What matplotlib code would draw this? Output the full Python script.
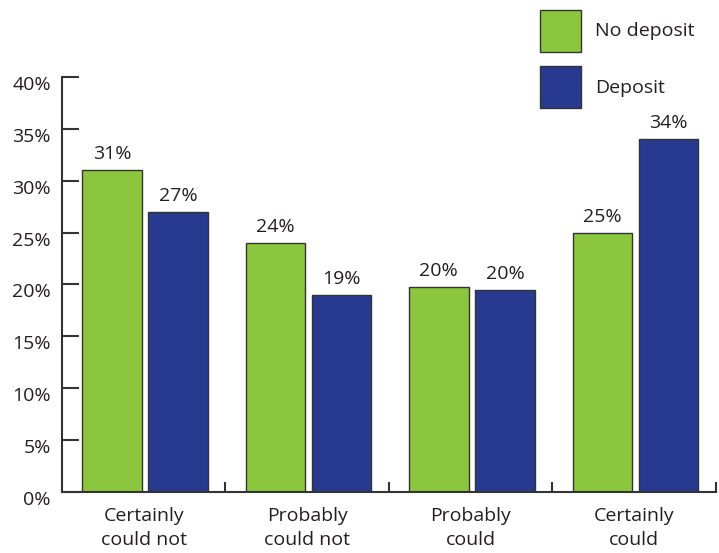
import matplotlib.pyplot as plt
import matplotlib.transforms as mtransforms
from matplotlib.patches import Patch

plt.rcParams['font.family'] = ['Open Sans', 'DejaVu Sans']

categories = ["Certainly\ncould not", "Probably\ncould not", "Probably\ncould", "Certainly\ncould"]
no_deposit = [31, 24, 19.8, 25]
deposit = [27, 19, 19.5, 34]
no_deposit_labels = ["31%", "24%", "20%", "25%"]
deposit_labels = ["27%", "19%", "20%", "34%"]
yticks = [0, 5, 10, 15, 20, 25, 30, 35, 40]

GREEN = "#8cc63f"
BLUE = "#283a8f"
TEXT = "#231f20"
LINE = "#333333"
FS = 14

fig = plt.figure(figsize=(7.19, 5.53), dpi=100)
ax = fig.add_axes([0.0862, 0.1103, 0.9096, 0.7505])

x = range(len(categories))
width = 0.365
gx = [i - 0.195 for i in x]
bx = [i + 0.21 for i in x]
ax.bar(gx, no_deposit, width=width, color=GREEN, edgecolor=LINE, linewidth=1)
ax.bar(bx, deposit, width=width, color=BLUE, edgecolor=LINE, linewidth=1)

for xs, vals, labs in [(gx, no_deposit, no_deposit_labels), (bx, deposit, deposit_labels)]:
    for xi, v, lab in zip(xs, vals, labs):
        ax.annotate(lab, (xi, v), xytext=(0, 5), textcoords="offset points",
                    ha="center", va="bottom", fontsize=FS, color=TEXT)

ax.set_xlim(-0.5, 3.5)
ax.set_ylim(0, 40)
ax.set_yticks(yticks)
ax.set_yticklabels([f"{t}%" for t in yticks])
ax.set_xticks(list(x))
ax.set_xticklabels(categories, linespacing=1.4)
ax.set_xticks([0.5, 1.5, 2.5, 3.5], minor=True)

ax.tick_params(axis="y", direction="in", length=12, width=1.5, color=LINE,
               labelsize=FS, labelcolor=TEXT, pad=8)
ax.tick_params(axis="x", which="major", length=0, labelsize=FS, labelcolor=TEXT, pad=11)
ax.tick_params(axis="x", which="minor", direction="in", length=7.5, width=1.5, color=LINE)

offset = mtransforms.ScaledTranslation(0, -6 / 100, fig.dpi_scale_trans)
for lab in ax.get_yticklabels():
    lab.set_transform(lab.get_transform() + offset)

for side in ["top", "right"]:
    ax.spines[side].set_visible(False)
for side in ["left", "bottom"]:
    ax.spines[side].set_color(LINE)
    ax.spines[side].set_linewidth(1.5)

handles = [Patch(facecolor=GREEN, edgecolor=LINE, label="No deposit"),
           Patch(facecolor=BLUE, edgecolor=LINE, label="Deposit")]
fig.legend(handles=handles, loc="upper left", bbox_to_anchor=(0.737, 1.0),
           frameon=False, fontsize=FS, handlelength=2.15, handleheight=2.95,
           labelspacing=0.74, handletextpad=0.7, borderpad=0, labelcolor=TEXT)

fig.savefig("out.png", dpi=100)
